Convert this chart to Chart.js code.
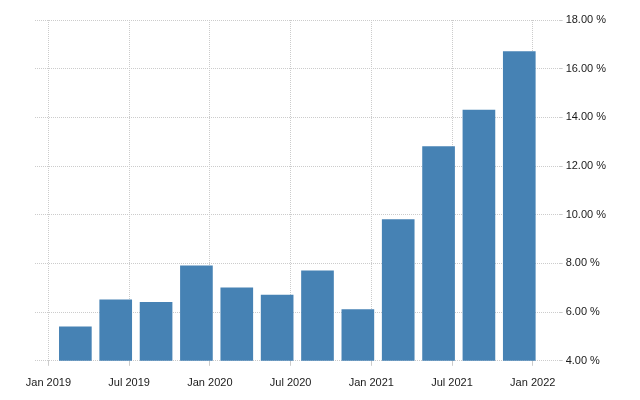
<!DOCTYPE html>
<html>
<head>
<meta charset="utf-8">
<script src="https://cdn.jsdelivr.net/npm/chart.js"></script>
<style>
  html, body { margin: 0; padding: 0; background: #fff; }
  #wrap { width: 640px; height: 400px; }
</style>
</head>
<body>
<div id="wrap"><canvas id="chart" width="640" height="400"></canvas></div>
<script>
// quarterly values, bars sit on the last month of each quarter
const periods = ['2019-03', '2019-06', '2019-09', '2019-12',
                 '2020-03', '2020-06', '2020-09', '2020-12',
                 '2021-03', '2021-06', '2021-09', '2021-12'];
const rates = [5.4, 6.5, 6.4, 7.9, 7.0, 6.7, 7.7, 6.1, 9.8, 12.8, 14.3, 16.7];

const tickDates = ['2019-01', '2019-07', '2020-01', '2020-07', '2021-01', '2021-07', '2022-01'];
const tickLabels = ['Jan 2019', 'Jul 2019', 'Jan 2020', 'Jul 2020', 'Jan 2021', 'Jul 2021', 'Jan 2022'];

// months counted from Jan 2019
function monthIndex(s) {
    const parts = s.split('-');
    return (parseInt(parts[0]) - 2019) * 12 + (parseInt(parts[1]) - 1);
}

const tickMonths = tickDates.map(monthIndex);
const points = periods.map(function (p, i) {
    return { x: monthIndex(p), y: rates[i] };
});

const gridColor = '#cccccc';
const textColor = '#1a1a1a';
const font = { family: 'Liberation Sans', size: 11 };

const ctx = document.getElementById('chart').getContext('2d');
const chart = new Chart(ctx, {
    type: 'bar',
    data: {
        datasets: [{
            data: points,
            backgroundColor: '#4682b4',
            borderWidth: 0,
            barThickness: 32
        }]
    },
    options: {
        responsive: false,
        animation: false,
        layout: { padding: { left: 35, top: 20, right: 31, bottom: -1 } },
        plugins: {
            legend: { display: false },
            tooltip: { enabled: false }
        },
        scales: {
            x: {
                type: 'linear',
                min: -1,
                max: 38,
                offset: false,
                afterBuildTicks: function (axis) {
                    axis.ticks = tickMonths.map(function (v) { return { value: v }; });
                },
                grid: {
                    offset: false,
                    color: gridColor,
                    lineWidth: 1,
                    tickLength: 5,
                    tickColor: gridColor
                },
                border: { display: false, dash: [1, 1] },
                ticks: {
                    color: textColor,
                    font: font,
                    padding: 11,
                    maxRotation: 0,
                    autoSkip: false,
                    callback: function (value) {
                        const i = tickMonths.indexOf(value);
                        return i >= 0 ? tickLabels[i] : '';
                    }
                }
            },
            y: {
                position: 'right',
                min: 4,
                max: 18,
                grid: {
                    color: gridColor,
                    lineWidth: 1,
                    tickLength: 3,
                    tickColor: gridColor
                },
                border: { display: false, dash: [1, 1] },
                ticks: {
                    stepSize: 2,
                    color: textColor,
                    font: font,
                    padding: 3,
                    callback: function (value) {
                        return value.toFixed(2) + ' %';
                    }
                }
            }
        }
    }
});
</script>
</body>
</html>
